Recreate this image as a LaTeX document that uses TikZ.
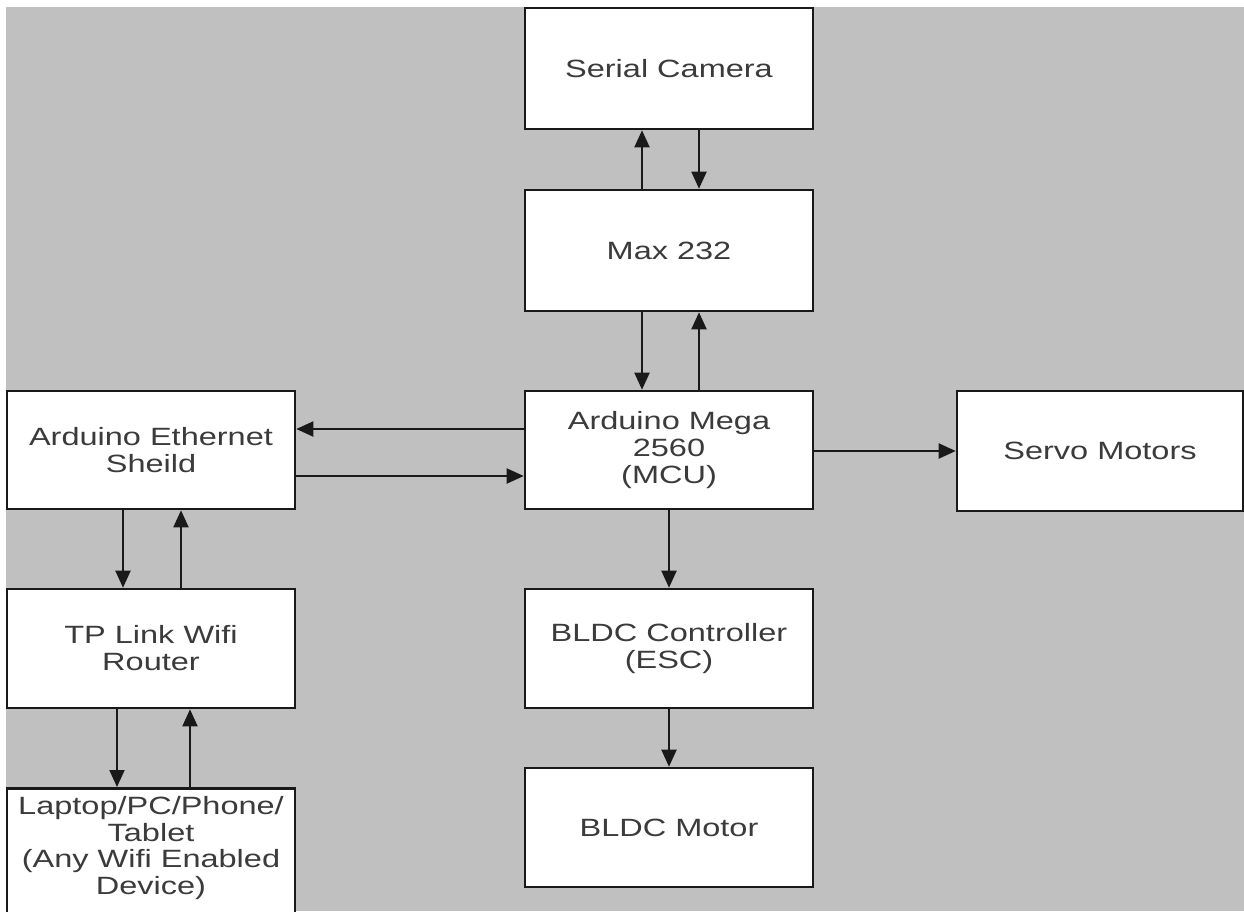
\documentclass[tikz,border=0pt]{standalone}
\usepackage{fontspec}
\setmainfont{Liberation Sans}[FakeStretch=1.3]
\usetikzlibrary{arrows.meta}
\definecolor{bg}{RGB}{192,192,192}
\definecolor{ink}{RGB}{25,25,25}
\begin{document}
\begin{tikzpicture}[x=1pt,y=-1pt,
  blk/.style={draw=ink,line width=2.6pt,fill=white,inner sep=0pt,align=center,
    font=\fontsize{25}{27}\selectfont,text=ink!85},
  arr/.style={draw=ink,line width=2pt,-{Triangle[length=17pt,width=15pt]}}]
\useasboundingbox (0,0) rectangle (1244,911);
\fill[white] (0,0) rectangle (1244,911);
\fill[bg] (6,7) rectangle (1244,911);
\begin{scope}
\clip (0,0) rectangle (1244,911);
\node[blk,minimum width=288pt,minimum height=121pt] (cam) at (669,68.5) {Serial Camera};
\node[blk,minimum width=288pt,minimum height=121pt] (max) at (669,250.5) {Max 232};
\node[blk,minimum width=288pt,minimum height=118pt] (mega) at (669,450) {Arduino Mega\\2560\\(MCU)};
\node[blk,minimum width=288pt,minimum height=119pt] (esc) at (669,648.5) {BLDC Controller\\(ESC)};
\node[blk,minimum width=288pt,minimum height=119pt] (mot) at (669,827.5) {BLDC Motor};
\node[blk,minimum width=286pt,minimum height=120pt] (servo) at (1100,451) {Servo Motors};
\node[blk,minimum width=288pt,minimum height=118pt] (eth) at (151,450) {Arduino Ethernet\\Sheild};
\node[blk,minimum width=288pt,minimum height=119pt] (tp) at (151,648.5) {TP Link Wifi\\Router};
\node[blk,minimum width=288pt,minimum height=150pt,anchor=north] (lap) at (151,787) {};
\node[align=center,font=\fontsize{25}{26.5}\selectfont,text=ink!85,inner sep=0pt] (laptxt) at (151,848) {Laptop/PC/Phone/\\Tablet\\(Any Wifi Enabled\\Device)};
\end{scope}
% connectors
\draw[arr] (max.north -| 642,0) -- (cam.south -| 642,0);
\draw[arr] (cam.south -| 699,0) -- (max.north -| 699,0);
\draw[arr] (max.south -| 642,0) -- (mega.north -| 642,0);
\draw[arr] (mega.north -| 699,0) -- (max.south -| 699,0);
\draw[arr] (mega.west |- 0,429) -- (eth.east |- 0,429);
\draw[arr] (eth.east |- 0,476) -- (mega.west |- 0,476);
\draw[arr] (mega.east |- 0,451) -- (servo.west |- 0,451);
\draw[arr] (mega.south) -- (esc.north);
\draw[arr] (esc.south) -- (mot.north);
\draw[arr] (eth.south -| 123,0) -- (tp.north -| 123,0);
\draw[arr] (tp.north -| 181,0) -- (eth.south -| 181,0);
\draw[arr] (tp.south -| 117,0) -- (lap.north -| 117,0);
\draw[arr] (lap.north -| 190,0) -- (tp.south -| 190,0);
\end{tikzpicture}
\end{document}
